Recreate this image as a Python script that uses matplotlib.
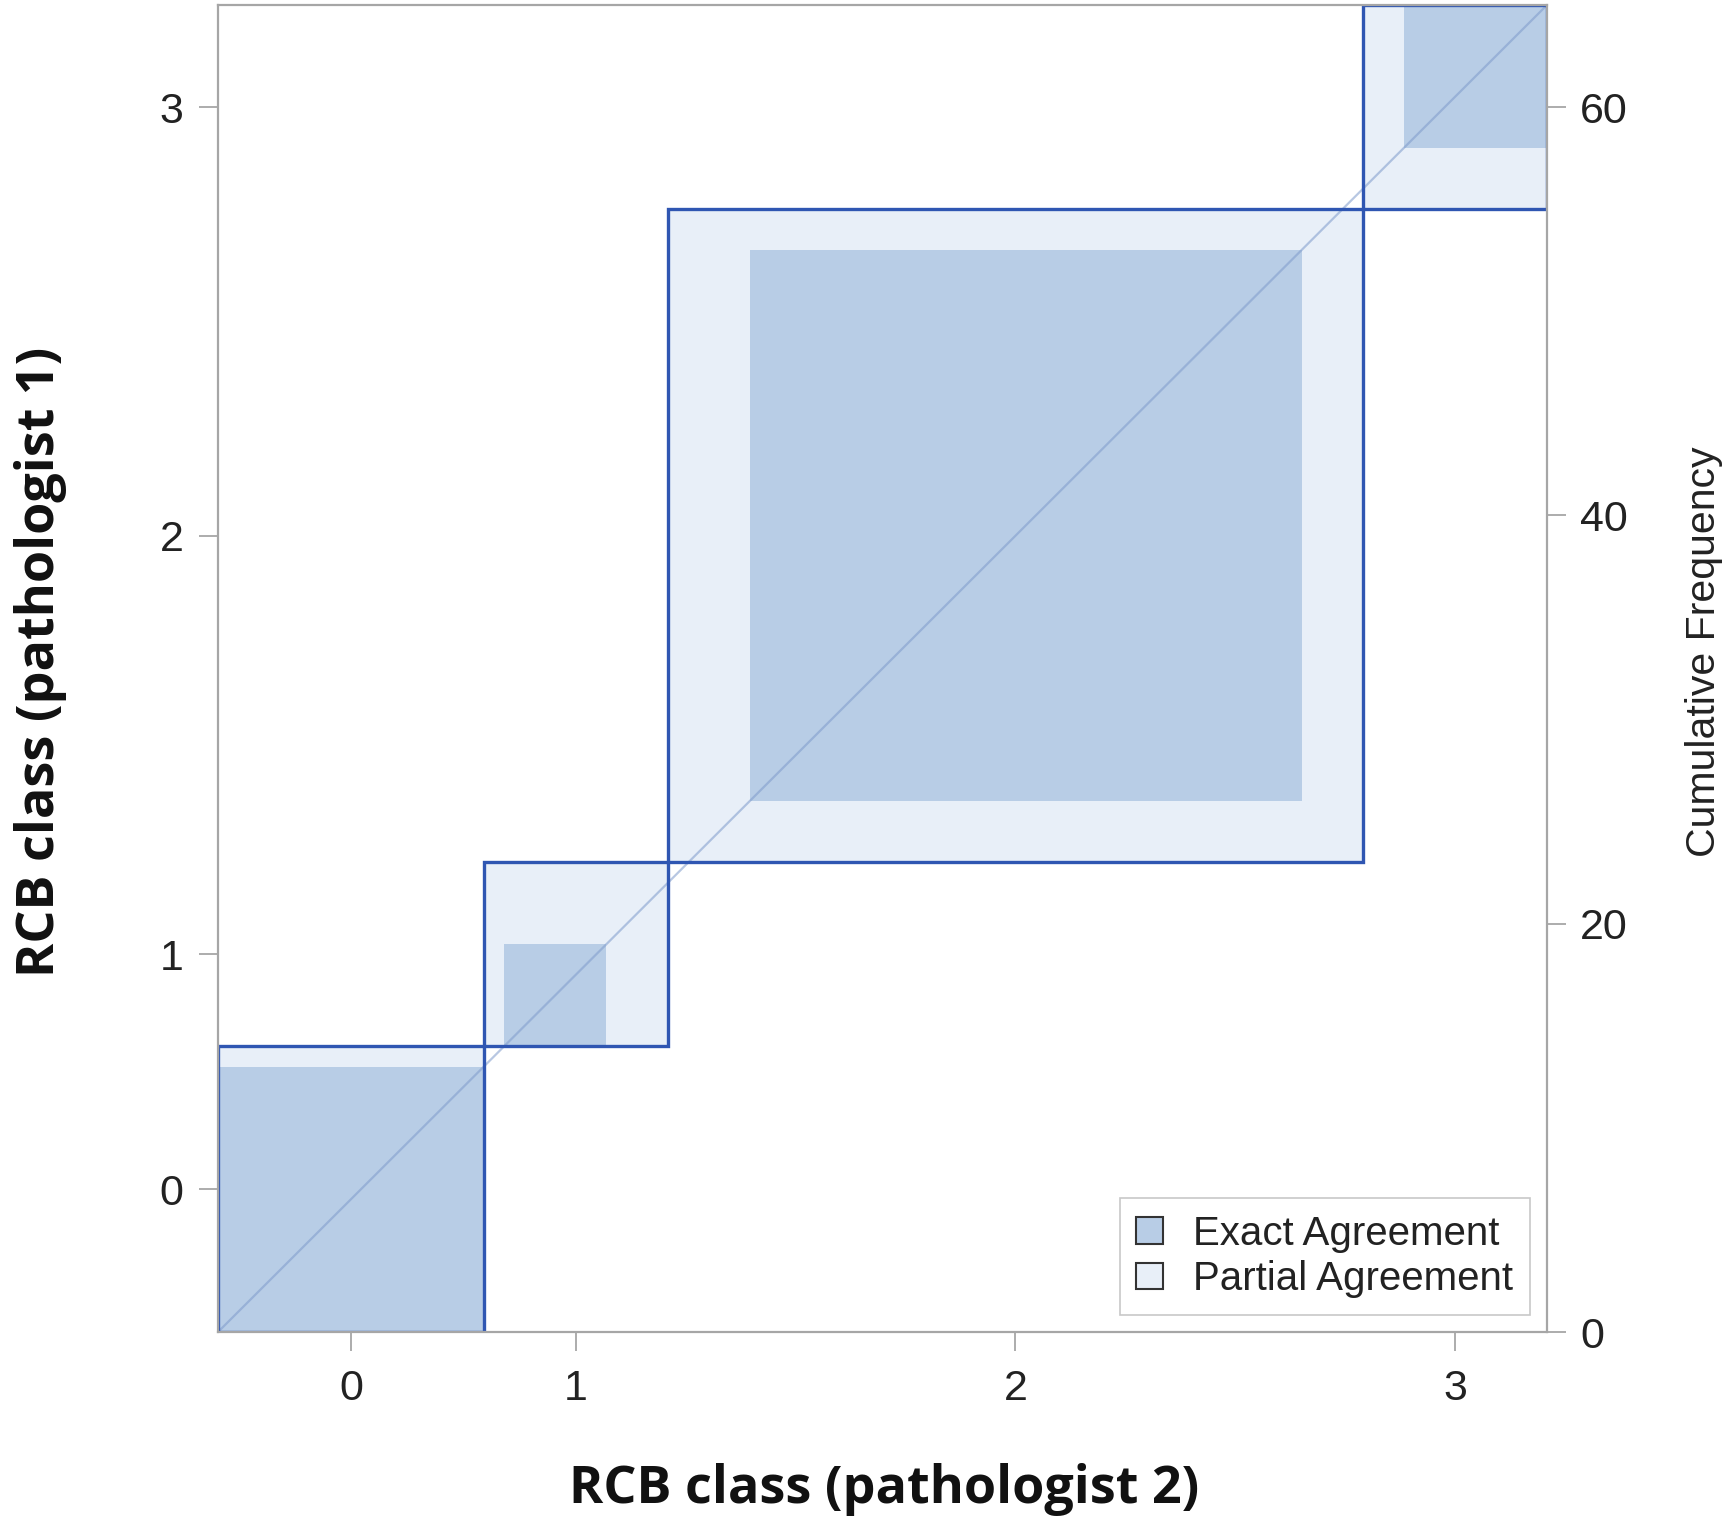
import numpy as np
import matplotlib
matplotlib.use("Agg")
import matplotlib.pyplot as plt
from matplotlib.patches import Rectangle, Patch

# RCB classes and cross-tabulated counts (rows: pathologist 1, columns: pathologist 2)
categories = ["0", "1", "2", "3"]
row_rcb0 = [13, 1, 0, 0]
row_rcb1 = [0, 5, 4, 0]
row_rcb2 = [0, 3, 27, 2]
row_rcb3 = [0, 0, 3, 7]
right_ticks = [0, 20, 40, 60]

counts = np.array([row_rcb0, row_rcb1, row_rcb2, row_rcb3])
k = len(categories)
row_tot = counts.sum(axis=1)
col_tot = counts.sum(axis=0)
n = counts.sum()
row_start = np.concatenate([[0], np.cumsum(row_tot)[:-1]])
col_start = np.concatenate([[0], np.cumsum(col_tot)[:-1]])

EXACT = "#B8CDE6"
PARTIAL = "#E8EFF8"
LINE = "#2F56B2"
GRID = "#A6A6A6"

W, H = 1734, 1517
fig = plt.figure(figsize=(W / 100, H / 100), dpi=100)
ax = fig.add_axes([218 / W, 1 - 1332 / H, 1329 / W, 1327 / H])
ax.set_xlim(0, n)
ax.set_ylim(0, n)

for i in range(k):
    # partial agreement: cells within one class of the diagonal
    lo = max(i - 1, 0)
    hi = min(i + 1, k - 1)
    px0 = col_start[i] + counts[:lo, i].sum()
    px1 = col_start[i] + counts[:hi + 1, i].sum()
    py0 = row_start[i] + counts[i, :lo].sum()
    py1 = row_start[i] + counts[i, :hi + 1].sum()
    ax.add_patch(Rectangle((px0, py0), px1 - px0, py1 - py0,
                           facecolor=PARTIAL, edgecolor="none", zorder=1))
    # exact agreement square
    ex = col_start[i] + counts[:i, i].sum()
    ey = row_start[i] + counts[i, :i].sum()
    ax.add_patch(Rectangle((ex, ey), counts[i, i], counts[i, i],
                           facecolor=EXACT, edgecolor="none", zorder=2))

# reference diagonal
ax.plot([0, n], [0, n], color="#7E9ACB", alpha=0.55, lw=1.6, zorder=3)

# outline of each marginal block
for i in range(k):
    ax.add_patch(Rectangle((col_start[i], row_start[i]), col_tot[i], row_tot[i],
                           facecolor="none", edgecolor=LINE, lw=2.4, zorder=4))

tick_font = dict(family=["Liberation Sans", "DejaVu Sans"], size=31, color="#222222")

ax.set_xticks(col_start + col_tot / 2)
ax.set_xticklabels(categories, **tick_font)
ax.set_yticks(row_start + row_tot / 2)
ax.set_yticklabels(categories, **tick_font)
ax.tick_params(axis="x", length=14, width=1.3, color=GRID, pad=13)
ax.tick_params(axis="y", length=14, width=1.3, color=GRID, pad=11)
for s in ax.spines.values():
    s.set_color(GRID)
    s.set_linewidth(1.6)
    s.set_zorder(5)

ax2 = ax.twinx()
ax2.set_ylim(0, n)
ax2.set_yticks(right_ticks)
ax2.set_yticklabels([str(t) for t in right_ticks], **tick_font)
ax2.tick_params(axis="y", length=14, width=1.3, color=GRID, pad=10)
for s in ax2.spines.values():
    s.set_visible(False)

label_font = dict(family=["Open Sans", "DejaVu Sans"], weight="bold", size=37.5, color="#111111")
fig.text(884 / W, 1 - 1490 / H, "RCB class (pathologist 2)", ha="center", va="center", **label_font)
fig.text(41 / W, 1 - 662 / H, "RCB class (pathologist 1)", ha="center", va="center",
         rotation=90, **label_font)
fig.text(1704 / W, 1 - 652 / H, "Cumulative Frequency", ha="center", va="center", rotation=90,
         family=["Liberation Sans", "DejaVu Sans"], size=29.5, color="#222222")

handles = [Patch(facecolor=EXACT, edgecolor="#333333", lw=1.5, label="Exact Agreement"),
           Patch(facecolor=PARTIAL, edgecolor="#333333", lw=1.5, label="Partial Agreement")]
leg = ax2.legend(handles=handles, loc="lower right", bbox_to_anchor=(0.987, 0.0128),
                 borderaxespad=0, fancybox=False, framealpha=1, edgecolor="#C8C8C8",
                 prop=dict(family=["Liberation Sans", "DejaVu Sans"], size=29),
                 handlelength=0.65, handleheight=0.65, handletextpad=0.75,
                 labelspacing=0.18, borderpad=0.42)
leg.get_frame().set_linewidth(1.2)
for t in leg.get_texts():
    t.set_color("#222222")

fig.savefig("out.png", dpi=100, facecolor="white")
